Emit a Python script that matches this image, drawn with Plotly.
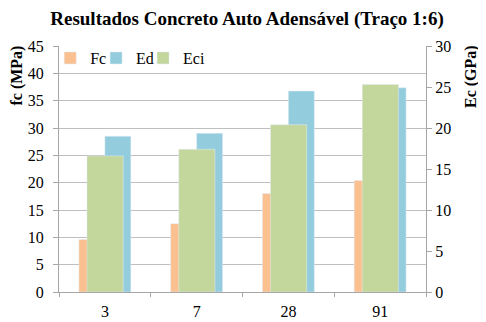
import plotly.graph_objects as go

categories = ["3", "7", "28", "91"]
fc_values = [9.6, 12.5, 18.0, 20.4]
ed_values = [19.0, 19.35, 24.5, 24.9]
eci_values = [16.6, 17.4, 20.4, 25.3]

FONT = "Liberation Serif"

fig = go.Figure()
fig.add_trace(go.Bar(name="Fc", x=categories, y=fc_values, marker_color="#FAC090",
                     offset=-0.283, width=0.283, yaxis="y", legend="legend",
                     showlegend=True))
fig.add_trace(go.Bar(name="Ed", x=categories, y=ed_values, marker_color="#93CDDD",
                     offset=0.0, width=0.283, yaxis="y2", legend="legend2",
                     showlegend=True))
fig.add_trace(go.Bar(name="Eci", x=categories, y=eci_values, marker_color="#C3D69B",
                     offset=-0.195, width=0.395, yaxis="y2", legend="legend3",
                     showlegend=True))

leg_common = dict(orientation="h", y=1.02, xanchor="left", yanchor="top",
                  bgcolor="rgba(0,0,0,0)", font=dict(family=FONT, size=16),
                  itemwidth=30, visible=True)

fig.update_layout(
    width=478, height=314,
    margin=dict(l=51, r=60, t=38, b=30),
    paper_bgcolor="white", plot_bgcolor="white",
    barmode="overlay",
    showlegend=True,
    font=dict(family=FONT, size=16, color="black"),
    title=dict(text="<b>Resultados Concreto Auto Adensável (Traço 1:6)</b>",
               x=0.5, xanchor="center", y=0.968, yref="container", yanchor="middle",
               font=dict(family=FONT, size=19, color="black")),
    legend=dict(x=-0.024, **leg_common),
    legend2=dict(x=0.101, **leg_common),
    legend3=dict(x=0.229, **leg_common),
    xaxis=dict(type="category", showline=True, linecolor="#A6A6A6", linewidth=1,
               ticks="outside", tickson="boundaries", ticklen=4, tickcolor="#A6A6A6",
               ticklabelstandoff=5,
               showgrid=False, automargin=False, tickfont=dict(family=FONT, size=16)),
    yaxis=dict(range=[0, 45], dtick=5, showline=True, linecolor="#A6A6A6",
               ticks="outside", ticklen=5, tickcolor="#A6A6A6", ticklabelstandoff=6,
               showgrid=True, gridcolor="#BFBFBF", gridwidth=1, zeroline=False,
               automargin=False, tickfont=dict(family=FONT, size=16)),
    yaxis2=dict(range=[0, 30], dtick=5, overlaying="y", side="right", showline=True,
                linecolor="#A6A6A6", ticks="outside", ticklen=5, tickcolor="#A6A6A6",
                showgrid=False, zeroline=False, automargin=False,
                tickfont=dict(family=FONT, size=16)),
    annotations=[
        dict(text="<b>fc (MPa)</b>", xref="paper", yref="paper", x=-0.1144, y=0.880,
             xanchor="center", yanchor="middle", textangle=-90, showarrow=False,
             font=dict(family=FONT, size=16, color="black")),
        dict(text="<b>Ec (GPa)</b>", xref="paper", yref="paper", x=1.1226, y=0.878,
             xanchor="center", yanchor="middle", textangle=-90, showarrow=False,
             font=dict(family=FONT, size=16, color="black")),
    ],
)

fig.write_html("out.html")
